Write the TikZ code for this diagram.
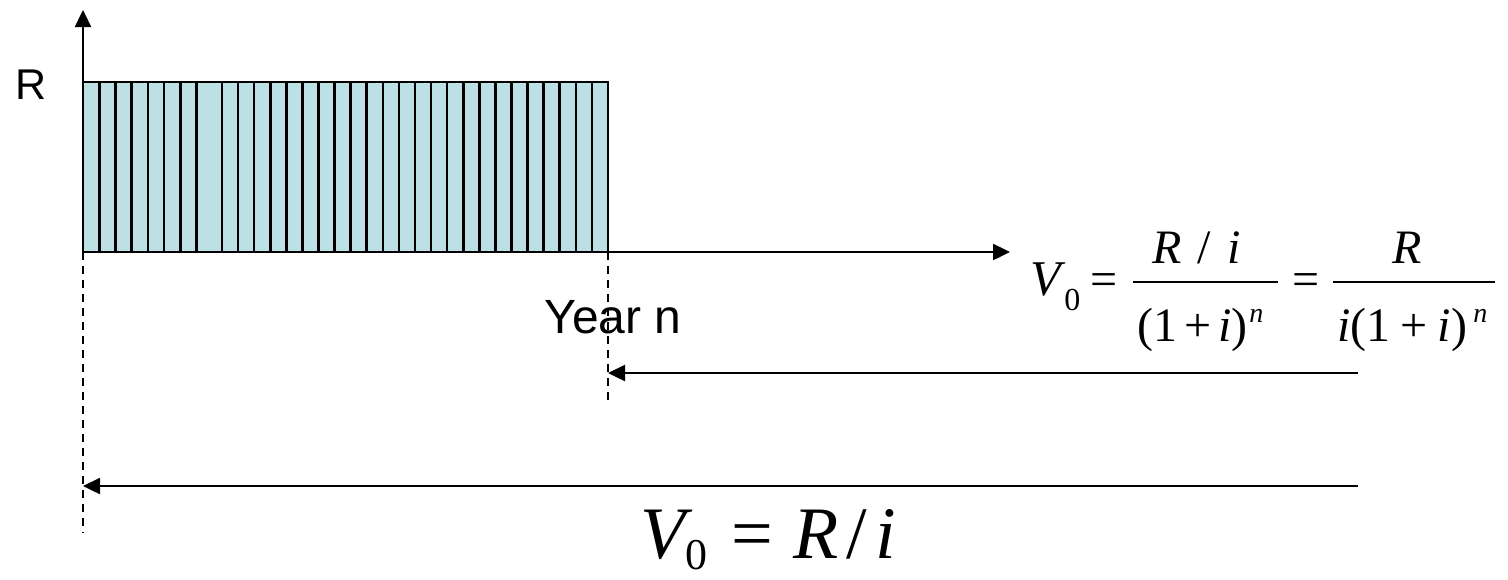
\documentclass[tikz,border=0pt]{standalone}
\usepackage{fontspec}
\setmainfont{Liberation Sans}
\newfontfamily\tnr{Liberation Serif}
\usetikzlibrary{arrows.meta}
\definecolor{barfill}{RGB}{189,224,228}
\begin{document}
\begin{tikzpicture}[x=0.5pt,y=-0.5pt,
  axis/.style={line width=1.2pt,-{Triangle[length=8.5pt,width=8pt]}},
  barline/.style={line width=1.3pt},
  guide/.style={line width=1pt,dash pattern=on 4pt off 3pt},
  lbl/.style={inner sep=0pt,anchor=base west},
  fbar/.style={line width=1pt},
  mi/.style={lbl,font=\tnr\itshape\fontsize{24}{24}\selectfont},
  mr/.style={lbl,font=\tnr\fontsize{24}{24}\selectfont}]
\useasboundingbox (0,0) rectangle (1508,579);
% coordinates
\coordinate (O) at (83,252);
\coordinate (Ytop) at (83,10);
\coordinate (Xend) at (1010,252);
\coordinate (N) at (608,252);
\coordinate (Ntop) at (608,82);
\coordinate (Otop) at (83,82);
\coordinate (Odash) at (83,533);
\coordinate (Ndash) at (608,405);
\coordinate (A1s) at (1358,373);
\coordinate (A1e) at (608,373);
\coordinate (A2s) at (1358,486);
\coordinate (A2e) at (83,486);
% bars
\fill[barfill] (Otop) rectangle (N);
\foreach \k in {1,...,7} \draw[barline] ({83+16.2*\k},82) -- ({83+16.2*\k},252);
\foreach \k in {0,...,23} \draw[barline] ({222+16.083*\k},82) -- ({222+16.083*\k},252);
\draw[barline] (Otop) -- (Ntop) -- (N);
% axes
\draw[axis] (O) -- (Ytop);
\draw[axis] (O) -- (Xend);
% guides
\draw[guide] (O) -- (Odash);
\draw[guide] (N) -- (Ndash);
% arrows
\draw[axis] (A1s) -- (A1e);
\draw[axis] (A2s) -- (A2e);
% labels
\node[lbl,font=\fontsize{21.5}{24}\selectfont] (R) at (15,99) {R};
\node[lbl,font=\fontsize{24}{28}\selectfont] (year) at (544,333) {Year n};
% top formula
\node[mi,font=\tnr\itshape\fontsize{25}{25}\selectfont] (V1) at (1030,295) {V};
\node[lbl,font=\tnr\fontsize{16}{16}\selectfont] (s1) at (1064,310) {0};
\node[mr] (eq1) at (1090,295) {=};
\node[mr] (num1) at (1152,263) {\itshape R\hspace{8pt}\upshape/\hspace{8pt}\itshape i};
\draw[fbar] (1133,282) coordinate (b1a) -- (1278,282) coordinate (b1b);
\node[mr] (den1) at (1137,341) {(1\hspace{3.5pt}+\hspace{3.5pt}\itshape i\upshape)};
\node[lbl,font=\tnr\itshape\fontsize{14}{14}\selectfont] (n1) at (1249,322) {n};
\node[mr] (eq2) at (1292,295) {=};
\draw[fbar] (1333,282) coordinate (b2a) -- (1495,282) coordinate (b2b);
\node[mi] (num2) at (1392,263) {R};
\node[mr] (den2) at (1337,341) {\itshape i\upshape(1\hspace{5pt}+\hspace{5pt}\itshape i\upshape)};
\node[lbl,font=\tnr\itshape\fontsize{14}{14}\selectfont] (n2) at (1473,322) {n};
% bottom formula
\node[lbl,font=\tnr\fontsize{37}{37}\selectfont] (V2) at (640,558)
  {\itshape V\upshape\hspace{0pt}\raisebox{-5.5pt}{\fontsize{22}{22}\selectfont 0}\hspace{12pt}=\hspace{10pt}\itshape R\hspace{4pt}\upshape/\hspace{4pt}\itshape i};
\end{tikzpicture}
\end{document}
